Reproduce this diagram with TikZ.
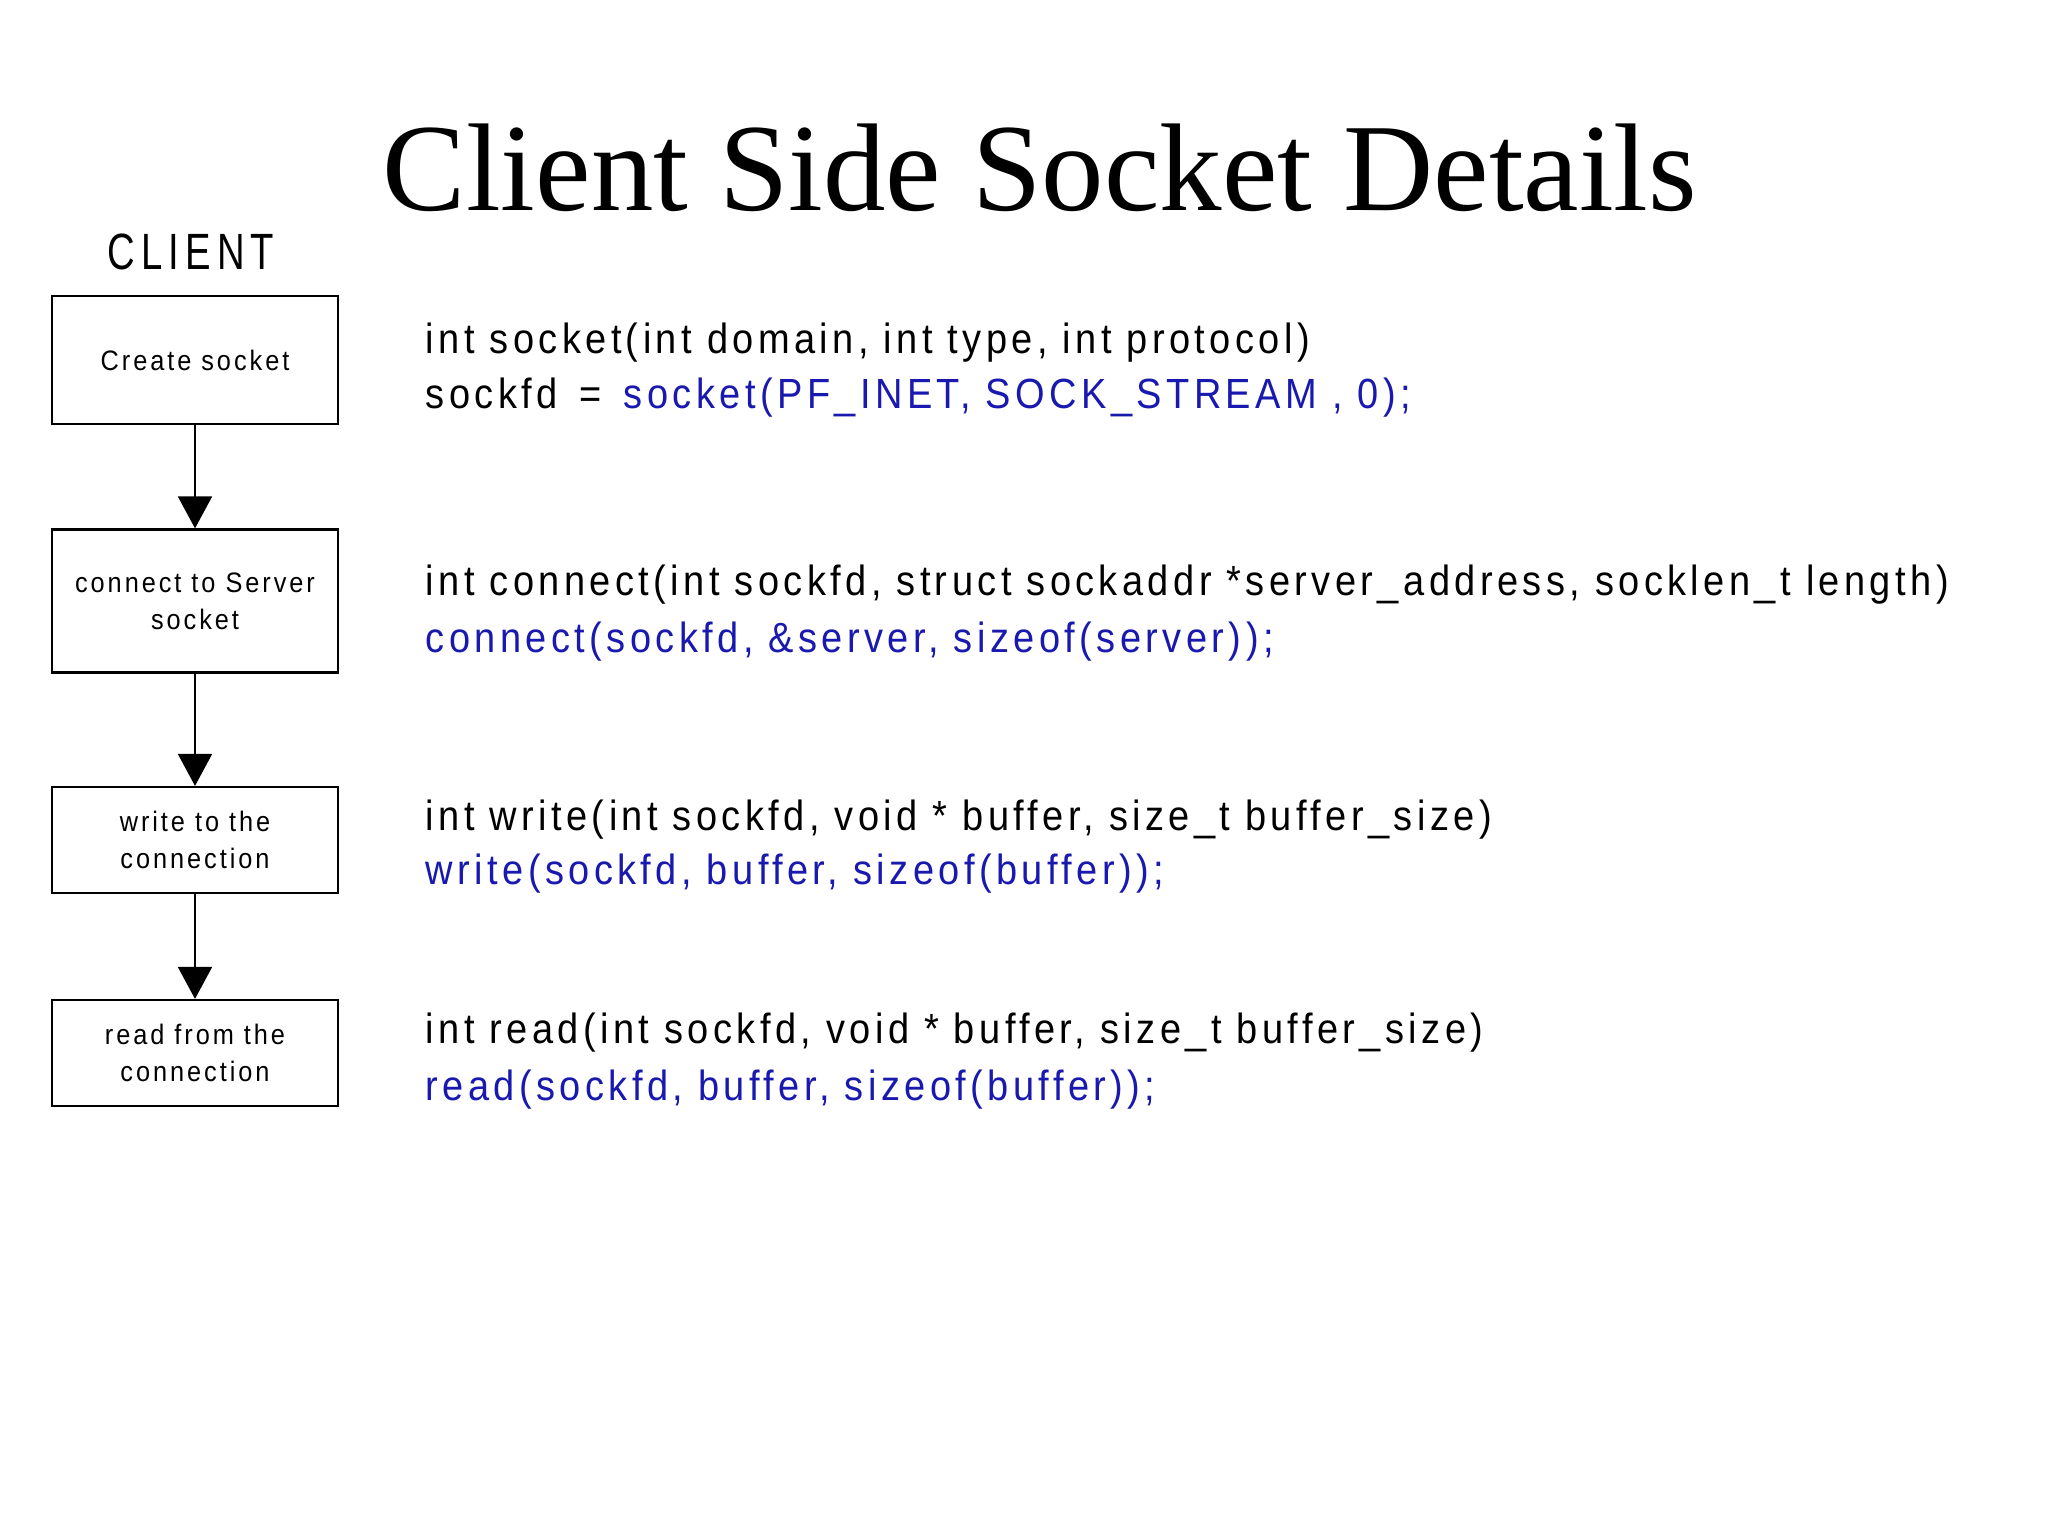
\documentclass[tikz,border=0pt]{standalone}
\usepackage{fontspec}
\setmainfont{Liberation Serif}
\newfontfamily\codefont[FakeStretch=0.9,LetterSpace=10.5]{Liberation Sans}
\newfontfamily\headfont[FakeStretch=0.75,LetterSpace=12]{Liberation Sans}
\usetikzlibrary{arrows.meta}
\definecolor{callblue}{RGB}{25,25,175}

\begin{document}
\begin{tikzpicture}[x=0.01cm,y=-0.01cm,
  stepbox/.style={draw,line width=0.6pt,minimum width=2.86cm,inner sep=2pt,align=center,
    font=\codefont\fontsize{8}{10.5}\selectfont},
  codeline/.style={anchor=base west,inner sep=0pt,font=\codefont\fontsize{12}{14}\selectfont},
  flow/.style={-{Triangle[length=0.32cm,width=0.34cm]},line width=0.5pt}]
\useasboundingbox[fill=white] (0,0) rectangle (2048,1536);

\node[anchor=base,inner sep=0pt,font=\fontsize{35.5}{40}\selectfont] (title) at (1040,210) {Client Side Socket Details};
\node[anchor=base,inner sep=0pt,font=\headfont\fontsize{14.5}{16}\selectfont] (client) at (191,269) {CLIENT};

% flow of the client
\node[stepbox,minimum height=1.28cm] (create) at (195,360) {Create socket};
\node[stepbox,minimum height=1.43cm] (connect) at (195,601) {connect to Server\\socket};
\node[stepbox,minimum height=1.06cm] (write) at (195,840) {write to the\\connection};
\node[stepbox,minimum height=1.06cm] (read) at (195,1053) {read from the\\connection};
\draw[flow] (create) -- (connect);
\draw[flow] (connect) -- (write);
\draw[flow] (write) -- (read);

% calls
\node[codeline] (sigsocket) at (425,353) {int socket(int domain, int type, int protocol)};
\node[codeline] (callsocket) at (425,408) {sockfd \,= \,\textcolor{callblue}{socket(PF\_INET, SOCK\_STREAM , 0);}};
\node[codeline] (sigconnect) at (425,595) {int connect(int sockfd, struct sockaddr *server\_address, socklen\_t length)};
\node[codeline,callblue] (callconnect) at (425,652) {connect(sockfd, \&server, sizeof(server));};
\node[codeline] (sigwrite) at (425,830) {int write(int sockfd, void * buffer, size\_t buffer\_size)};
\node[codeline,callblue] (callwrite) at (425,884) {write(sockfd, buffer, sizeof(buffer));};
\node[codeline] (sigread) at (425,1043) {int read(int sockfd, void * buffer, size\_t buffer\_size)};
\node[codeline,callblue] (callread) at (425,1100) {read(sockfd, buffer, sizeof(buffer));};
\end{tikzpicture}
\end{document}
